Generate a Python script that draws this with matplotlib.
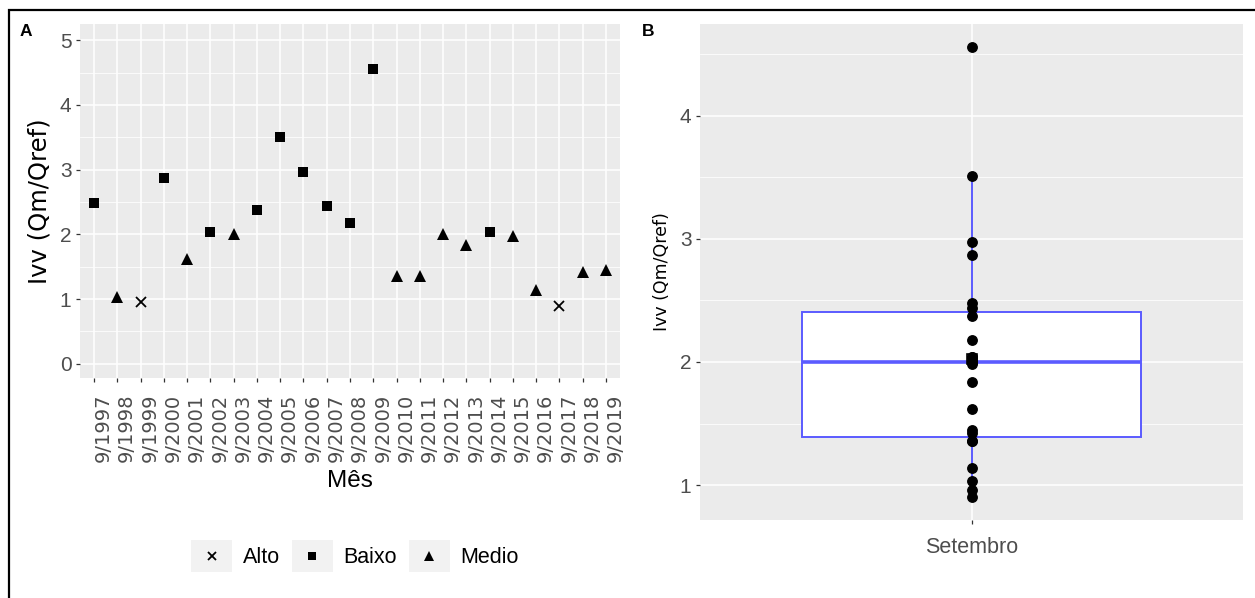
import numpy as np
import matplotlib
matplotlib.use("Agg")
import matplotlib.pyplot as plt
from matplotlib.patches import Rectangle
from matplotlib.lines import Line2D
from matplotlib.legend_handler import HandlerBase
from matplotlib.ticker import MultipleLocator, FixedLocator

plt.rcParams['font.family'] = ['Liberation Sans', 'DejaVu Sans']

# ---- data -------------------------------------------------------------
months = ["9/1997", "9/1998", "9/1999", "9/2000", "9/2001", "9/2002", "9/2003",
          "9/2004", "9/2005", "9/2006", "9/2007", "9/2008", "9/2009", "9/2010",
          "9/2011", "9/2012", "9/2013", "9/2014", "9/2015", "9/2016", "9/2017",
          "9/2018", "9/2019"]
ivv = [2.48, 1.03, 0.96, 2.87, 1.62, 2.04, 2.00, 2.37, 3.51, 2.97, 2.44, 2.18,
       4.56, 1.36, 1.36, 2.01, 1.84, 2.04, 1.98, 1.14, 0.90, 1.42, 1.45]
classe = ["Baixo", "Medio", "Alto", "Baixo", "Medio", "Baixo", "Medio", "Baixo",
          "Baixo", "Baixo", "Baixo", "Baixo", "Baixo", "Medio", "Medio", "Medio",
          "Medio", "Baixo", "Medio", "Medio", "Alto", "Medio", "Medio"]
class_order = ["Alto", "Baixo", "Medio"]
month_group = "Setembro"

# ---- style ------------------------------------------------------------
PANEL = "#EBEBEB"
TICKC = "#333333"
TEXTC = "#4D4D4D"
BOXC = "#5B5BFF"
markers = {"Alto": dict(marker="x", ms=7.5, mew=1.3),
           "Baixo": dict(marker="s", ms=7.4, mew=0),
           "Medio": dict(marker="^", ms=8.8, mew=0)}

W, H = 1255, 598
fig = plt.figure(figsize=(W / 100, H / 100), dpi=100)


def px_axes(x0, y0, x1, y1):
    return fig.add_axes([x0 / W, 1 - y1 / H, (x1 - x0) / W, (y1 - y0) / H])


def gg_theme(ax):
    ax.set_facecolor(PANEL)
    for s in ax.spines.values():
        s.set_visible(False)
    ax.grid(which="major", color="white", lw=1.1)
    ax.grid(which="minor", axis="y", color="white", lw=0.55)
    ax.set_axisbelow(True)
    ax.tick_params(which="major", length=3.2, width=0.9, color=TICKC,
                   labelcolor=TEXTC, pad=3)
    ax.tick_params(which="minor", length=0)


# ---- panel A ----------------------------------------------------------
axA = px_axes(80, 24, 620, 378)
gg_theme(axA)
xpos = np.arange(len(months))
for cl in class_order:
    idx = [i for i, c in enumerate(classe) if c == cl]
    axA.plot(xpos[idx], [ivv[i] for i in idx], ls="none", color="black",
             mec="black", label=cl, **markers[cl])
axA.set_xlim(-0.6, len(months) - 1 + 0.6)
axA.set_ylim(-0.22, 5.25)
axA.xaxis.set_major_locator(FixedLocator(xpos))
axA.set_xticklabels(months, rotation=90, ha="left", va="top",
                    family=["DejaVu Sans"], fontsize=14)
axA.yaxis.set_major_locator(MultipleLocator(1))
axA.yaxis.set_minor_locator(MultipleLocator(0.5))
axA.tick_params(axis="y", labelsize=15)
axA.tick_params(axis="x", pad=8)
axA.set_xlabel("Mês", fontsize=17.5, labelpad=6)
axA.set_ylabel("Ivv (Qm/Qref)", fontsize=17.5, family=["DejaVu Sans"], labelpad=6)


# legend with grey key backgrounds
class KeyHandler(HandlerBase):
    def create_artists(self, legend, orig, xd, yd, width, height, fontsize, trans):
        bg = Rectangle((-xd, -yd), width, height, facecolor="#F2F2F2",
                       edgecolor="none", transform=trans)
        mk = Line2D([width / 2 - xd], [height / 2 - yd], ls="none",
                    marker=orig.get_marker(), ms=orig.get_markersize() * 0.85,
                    mew=orig.get_markeredgewidth(), color="black", mec="black",
                    transform=trans)
        return [bg, mk]


handles, labels = axA.get_legend_handles_labels()
fig.legend(handles, labels, loc="center", bbox_to_anchor=(355 / W, 1 - 556 / H),
           ncol=3, frameon=False, fontsize=15.5,
           handler_map={Line2D: KeyHandler()},
           handlelength=1.9, handleheight=1.9, handletextpad=0.5,
           columnspacing=0.55, borderpad=0)

# ---- panel B ----------------------------------------------------------
axB = px_axes(700, 24, 1243, 520)
gg_theme(axB)
vals = np.array(ivv)
bp = axB.boxplot([vals], positions=[1], widths=0.75, showfliers=False,
                 patch_artist=True, whis=1.5,
                 boxprops=dict(facecolor="white", edgecolor=BOXC, lw=1.4),
                 medianprops=dict(color=BOXC, lw=2.6),
                 whiskerprops=dict(color=BOXC, lw=1.4),
                 capprops=dict(lw=0), zorder=2)
axB.plot([1], [vals.mean()], ls="none", marker="s", ms=7, mfc="white",
         mec="black", mew=1.2, zorder=3)
axB.plot(np.ones_like(vals), vals, ls="none", marker="o", ms=6.8,
         color="black", zorder=4)
rng = vals.max() - vals.min()
axB.set_xlim(0.4, 1.6)
axB.set_ylim(vals.min() - 0.05 * rng, vals.max() + 0.05 * rng)
axB.set_xticks([1])
axB.set_xticklabels([month_group], fontsize=15.5)
axB.tick_params(axis="x", pad=9)
axB.yaxis.set_major_locator(MultipleLocator(1))
axB.yaxis.set_minor_locator(MultipleLocator(0.5))
axB.tick_params(axis="y", labelsize=15)
axB.set_ylabel("Ivv (Qm/Qref)", fontsize=12.5, family=["DejaVu Sans"], labelpad=6)

# ---- panel tags and outer frame ---------------------------------------
fig.text(26 / W, 1 - 31 / H, "A", fontsize=12.5, weight="bold", ha="center", va="center")
fig.text(648 / W, 1 - 31 / H, "B", fontsize=12.5, weight="bold", ha="center", va="center")
fig.patches.append(Rectangle((9 / W, -0.1), 1.2, 1.1 - 10 / H, fill=False,
                             edgecolor="black", lw=1.6, transform=fig.transFigure,
                             figure=fig))

fig.savefig("out.png", dpi=100)
